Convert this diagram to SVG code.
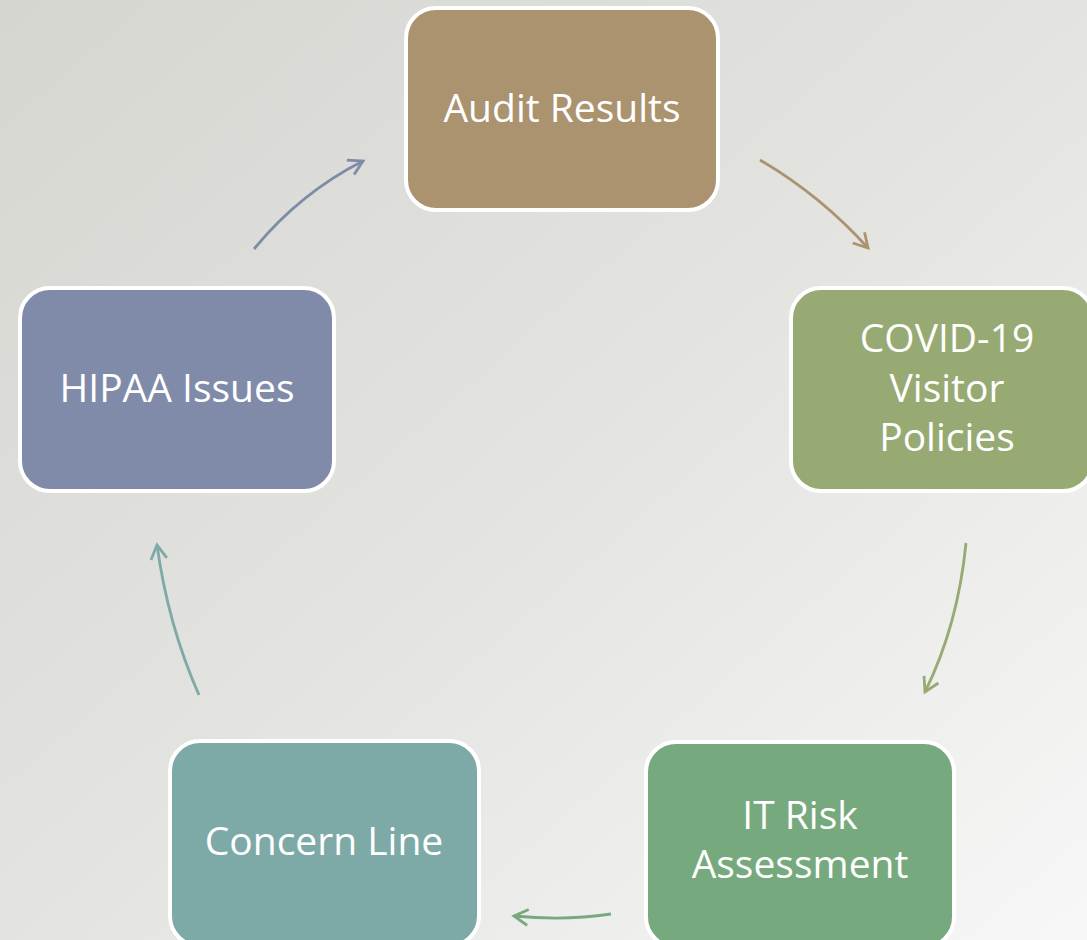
<svg xmlns="http://www.w3.org/2000/svg" width="1087" height="940" viewBox="0 0 1087 940">
<defs>
<linearGradient id="bg" x1="0" y1="0" x2="1" y2="1">
<stop offset="0" stop-color="#d5d6d0"/>
<stop offset="0.5" stop-color="#e3e3e0"/>
<stop offset="1" stop-color="#f7f7f7"/>
</linearGradient>
<marker id="m1" viewBox="0 0 20 20" refX="17" refY="10" markerWidth="20" markerHeight="20" markerUnits="userSpaceOnUse" orient="auto"><path d="M3,2 L17,10 L3,18" fill="none" stroke="#ab9370" stroke-width="2.8"/></marker>
<marker id="m2" viewBox="0 0 20 20" refX="17" refY="10" markerWidth="20" markerHeight="20" markerUnits="userSpaceOnUse" orient="auto"><path d="M3,2 L17,10 L3,18" fill="none" stroke="#97aa73" stroke-width="2.8"/></marker>
<marker id="m3" viewBox="0 0 20 20" refX="17" refY="10" markerWidth="20" markerHeight="20" markerUnits="userSpaceOnUse" orient="auto"><path d="M3,2 L17,10 L3,18" fill="none" stroke="#77a97e" stroke-width="2.8"/></marker>
<marker id="m4" viewBox="0 0 20 20" refX="17" refY="10" markerWidth="20" markerHeight="20" markerUnits="userSpaceOnUse" orient="auto"><path d="M3,2 L17,10 L3,18" fill="none" stroke="#7daaa7" stroke-width="2.8"/></marker>
<marker id="m5" viewBox="0 0 20 20" refX="17" refY="10" markerWidth="20" markerHeight="20" markerUnits="userSpaceOnUse" orient="auto"><path d="M3,2 L17,10 L3,18" fill="none" stroke="#7f8ba8" stroke-width="2.8"/></marker>
</defs>
<style>
.box{stroke:#ffffff;stroke-width:4}
.lbl{font-family:"Open Sans","Noto Sans",sans-serif;font-size:39px;fill:#ffffff;text-anchor:middle}
.arr{fill:none;stroke-width:2.8}
</style>
<rect width="1087" height="940" fill="url(#bg)"/>
<g id="connectors">
<path class="arr" d="M760,160 Q820,195 868,248" stroke="#ab9370" marker-end="url(#m1)"/>
<path class="arr" d="M966,543 Q958,625 925,692" stroke="#97aa73" marker-end="url(#m2)"/>
<path class="arr" d="M611,914 Q565,921 514,916" stroke="#77a97e" marker-end="url(#m3)"/>
<path class="arr" d="M199,695 Q168,625 157,545" stroke="#7daaa7" marker-end="url(#m4)"/>
<path class="arr" d="M254,249 Q300,193 363,161" stroke="#7f8ba8" marker-end="url(#m5)"/>
</g>
<g id="audit">
<rect class="box" x="406" y="8" width="312" height="202" rx="30" fill="#ab9370"/>
<text class="lbl" x="562" y="122">Audit Results</text>
</g>
<g id="covid">
<rect class="box" x="791" y="288" width="302" height="203" rx="30" fill="#97aa73"/>
<text class="lbl" x="947" y="352">COVID-19</text>
<text class="lbl" x="947" y="402">Visitor</text>
<text class="lbl" x="947" y="451">Policies</text>
</g>
<g id="itrisk">
<rect class="box" x="646" y="742" width="308" height="205" rx="30" fill="#77a97e"/>
<text class="lbl" x="800" y="829">IT Risk</text>
<text class="lbl" x="800" y="878">Assessment</text>
</g>
<g id="concern">
<rect class="box" x="170" y="741" width="309" height="205" rx="30" fill="#7daaa7"/>
<text class="lbl" x="324" y="855">Concern Line</text>
</g>
<g id="hipaa">
<rect class="box" x="20" y="288" width="314" height="203" rx="30" fill="#7f8ba8"/>
<text class="lbl" x="177" y="402">HIPAA Issues</text>
</g>
</svg>
